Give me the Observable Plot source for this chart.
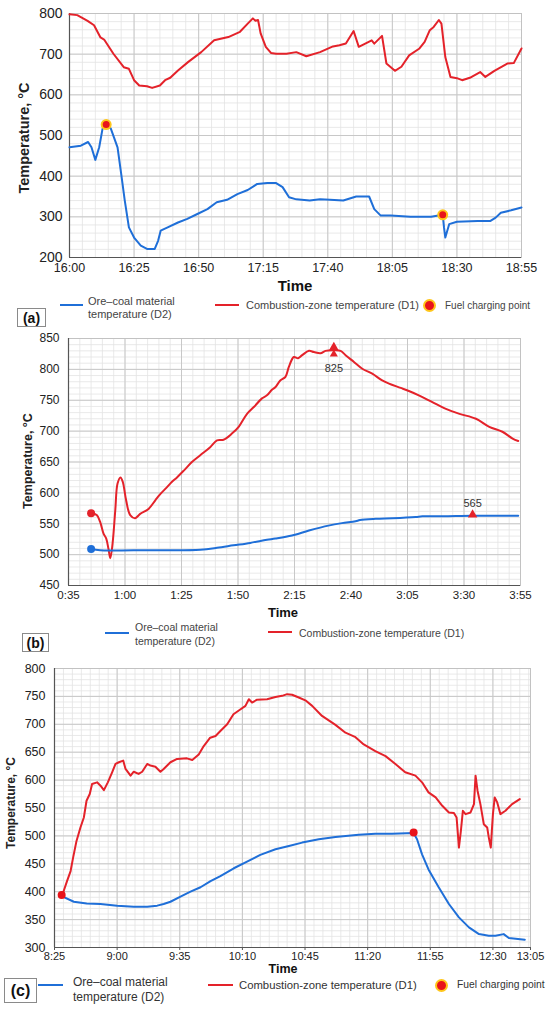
<!DOCTYPE html>
<html><head><meta charset="utf-8">
<script src="https://cdn.jsdelivr.net/npm/d3@7"></script>
<script src="https://cdn.jsdelivr.net/npm/@observablehq/plot@0.6"></script>
<style>
body{margin:0;background:#fff;}
#root{position:relative;width:550px;height:1012px;overflow:hidden;font-family:"Liberation Sans",Arial,sans-serif;color:#333;}
.abs{position:absolute;white-space:nowrap;}
.ytitle{position:absolute;white-space:nowrap;transform:translate(-50%,-50%) rotate(-90deg);font-weight:bold;color:#222;}
.xtitle{position:absolute;white-space:nowrap;transform:translate(-50%,-50%);font-weight:bold;color:#111;}
.lline{position:absolute;height:0;border-top:2.5px solid;}
.ldot{position:absolute;border-radius:50%;background:#e8141b;}
.plabel{position:absolute;border:1px solid #8a8a8a;font-weight:bold;color:#111;display:flex;align-items:center;justify-content:center;box-sizing:border-box;}
</style></head><body><div id="root"></div>
<script>
// ---------------- Panel (a): minutes after 16:00 ----------------
const aXTicks = [0, 25, 50, 75, 100, 125, 150, 175];
const aXLabels = ["16:00", "16:25", "16:50", "17:15", "17:40", "18:05", "18:30", "18:55"];
const aYTicks = [200, 300, 400, 500, 600, 700, 800];
const aRed = [[0,798],[3,796],[7,782],[9.5,771],[12,741],[13.4,736],[17,701],[21,668],[23,664],[25,636],[27,623],[30,621],[32,617],[35,623],[37,636],[39,642],[42,660],[46,681],[51,705],[56,734],[61.5,742],[66,755],[69,775],[71,788],[72,782],[73,784],[74,751],[76,718],[78,703],[80,701],[84,701],[87.8,705],[91.7,695],[97,705],[102,719],[104.5,722],[107,726],[110,757],[112,718],[114.5,726],[117,734],[118,726],[121,745],[122.7,677],[126,659],[128.5,669],[131.5,697],[135.5,714],[137.5,730],[139.5,759],[141,767],[143,784],[144,775],[145.5,693],[147.5,644],[150,641],[152,636],[155,642],[159,656],[161,644],[164.5,659],[169.5,677],[172,678],[175,714]];
const aBlue = [[0,471],[4.4,475],[7.2,484],[8.5,471],[10,440],[11.5,471],[12.8,517],[14.2,527],[16,517],[18.6,471],[20,406],[21.4,340],[23,274],[25,249],[27.6,229],[30,221],[33,221],[34.3,241],[35.3,266],[38,274],[42,286],[45.6,295],[49.5,307],[53.4,319],[57,336],[61,342],[65,356],[69,366],[72.7,381],[76.6,383],[80,383],[82.5,373],[85,348],[87.8,343],[93,340],[97,343],[100.8,342],[106,340],[111,350],[116,350],[118,319],[120.5,303],[124.4,303],[132,300],[140,300],[144.5,305],[145,274],[145.5,249],[147,282],[150,288],[158,290],[163,290],[165,298],[167,310],[171,316],[175,323]];
const aFuel = [[14.2,527],[144.5,305]];

// ---------------- Panel (b): minutes after 0:00 ----------------
const bXTicks = [35, 60, 85, 110, 135, 160, 185, 210, 235];
const bXLabels = ["0:35", "1:00", "1:25", "1:50", "2:15", "2:40", "3:05", "3:30", "3:55"];
const bYTicks = [450, 500, 550, 600, 650, 700, 750, 800, 850];
const bRed = [[45,567],[47.5,564],[49,553],[50.5,534],[51.7,526],[52.7,509],[53.5,494],[54.5,518],[55.7,572],[56.7,615],[58,625],[59,618],[60.5,588],[62.3,564],[64.5,559],[66.7,566],[70.4,574],[73.4,588],[75.6,598],[78.5,609],[80.8,618],[83,625],[86,636],[89.6,650],[93.3,661],[97.7,674],[100.7,685],[103.6,686],[107.3,696],[110.3,707],[114,728],[117,739],[120.6,753],[122.8,758],[125,767],[126.5,771],[128.7,782],[131,788],[132.5,804],[134.7,820],[136.6,818],[138.4,823],[141.4,830],[143.6,828],[146.5,826],[148.7,830],[152.4,831],[155.4,830],[157.6,823],[161.3,812],[165,801],[169.4,793],[173.8,782],[176.8,777],[182,770],[185.6,765],[190,758],[196,747],[202,736],[208,728],[215.3,720],[221.2,707],[227,699],[231.5,688],[234,684]];
const bBlue = [[45,509],[49,507],[63.8,507],[78.5,507],[93.3,508],[100.7,511],[108,515],[115.4,519],[122.8,524],[126.5,526],[133.9,531],[141.4,539],[150,547],[156,551],[162,554],[164,556],[171,558],[178.3,559],[188.6,561],[191.6,562],[200.5,562],[213.8,563],[234,563]];
const bRedStart = [[45,567]];
const bBlueStart = [[45,509]];
const bPeak = [[152.4,831,"825"]];
const bPlateau = [[213.8,563,"565"]];

// ---------------- Panel (c): minutes after 0:00 ----------------
const cXTicks = [505, 540, 575, 610, 645, 680, 715, 750, 771];
const cXLabels = ["8:25", "9:00", "9:35", "10:10", "10:45", "11:20", "11:55", "12:30", "13:05"];
const cYTicks = [300, 350, 400, 450, 500, 550, 600, 650, 700, 750, 800];
const cRed = [[509,394],[510,400],[512,419],[514,437],[515.4,461],[517.3,491],[519.5,515],[521.4,533],[522.9,563],[524.7,575],[526,593],[528.8,596],[530.7,590],[532.6,582],[534.8,596],[537.2,614],[539.1,629],[541,632],[543.4,635],[544.7,620],[547.5,608],[549.3,615],[552,611],[554,615],[556.8,629],[558.6,626],[561.4,624],[564.2,615],[566,620],[569.8,632],[573.5,638],[579,639],[582,636],[585.6,646],[588.4,661],[592,676],[595,679],[597.7,688],[601.5,700],[605,718],[609,727],[611.7,733],[613.6,745],[615.4,739],[618.2,744],[623.8,745],[628.5,749],[632.2,751],[635,754],[637.8,753],[641.5,748],[645.2,743],[649,733],[654.5,715],[662,699],[667.6,685],[673.2,677],[677.8,664],[684.3,652],[690,643],[695.5,629],[701,614],[706.7,608],[710.4,596],[714,578],[718,569],[721.7,554],[725.4,542],[728.2,541],[729.7,533],[731,479],[732.1,509],[733.2,545],[734.7,539],[737.5,542],[739.4,557],[740.3,608],[741.4,581],[743,557],[744.9,521],[746.8,515],[747.7,497],[748.8,479],[750,539],[751,569],[752.4,560],[754.2,539],[757,545],[760.7,557],[765,566]];
const cBlue = [[509,392],[515.8,382],[523,379],[530.7,378],[540,375],[549.3,373],[556.8,373],[562.4,375],[566,378],[569.8,382],[575.4,391],[581,400],[586.6,408],[592.2,419],[597.7,428],[605.2,442],[612.6,454],[620,466],[628.5,476],[636,482],[643.4,488],[652.7,494],[662,498],[675,502],[684.3,504],[693.6,504],[705.7,505],[707.6,494],[710.4,467],[714,440],[719.7,408],[725.4,378],[731,354],[736.6,336],[742.2,324],[747.7,321],[751.4,321],[756,324],[758.9,317],[767.8,314]];
const cFuel = [[509,394],[705.7,506]];

// ---------------- drawing ----------------
const RED = "#e4222a", BLUE = "#1f6fd8", RING = "#ffc61a";
const root = document.getElementById("root");
const pts = arr => arr.map(([t, v, label]) => ({t, v, label}));

function panel(p) {
  const tickMap = new Map(p.xTicks.map((t, i) => [t, p.xLabels[i]]));
  const marks = [
    Plot.gridX(d3.range(p.xDomain[0], p.xDomain[1] + 0.001, p.xMinorStep), {stroke: "#e3e3e3", strokeOpacity: 1, strokeWidth: 0.8}),
    Plot.gridY(d3.range(p.yDomain[0], p.yDomain[1] + 0.001, p.yMinorStep), {stroke: "#e3e3e3", strokeOpacity: 1, strokeWidth: 0.8}),
    Plot.gridX(p.xTicks, {stroke: "#c8c8c8", strokeOpacity: 1}),
    Plot.gridY(p.yTicks, {stroke: "#c8c8c8", strokeOpacity: 1}),
    Plot.frame({stroke: "#c2c2c2"}),
    Plot.ruleX([p.xDomain[0]], {stroke: "#555", strokeWidth: 1.2}),
    Plot.ruleY([p.yDomain[0]], {stroke: "#555", strokeWidth: 1.2}),
    Plot.axisY(p.yTicks, {tickSize: 0, tickPadding: p.yPad, fontSize: p.yFs, fill: "#222", label: null}),
    Plot.axisX(p.xTicks, {tickSize: p.xTickSize, tickPadding: p.xPad, fontSize: p.xFs, fill: "#222", stroke: "#555", tickFormat: d => tickMap.get(d), label: null}),
    Plot.line(pts(p.red), {x: "t", y: "v", stroke: RED, strokeWidth: 2, curve: p.curve}),
    Plot.line(pts(p.blue), {x: "t", y: "v", stroke: BLUE, strokeWidth: 2, curve: p.curve}),
    ...p.extra
  ];
  const svg = Plot.plot({
    width: 550, height: p.height,
    marginLeft: p.ml, marginRight: p.mr, marginTop: p.mt, marginBottom: p.mb,
    style: {fontFamily: "Liberation Sans, Arial, sans-serif", background: "transparent", overflow: "visible"},
    x: {domain: p.xDomain, axis: null, label: null},
    y: {domain: p.yDomain, axis: null, label: null},
    marks
  });
  svg.style.position = "absolute";
  svg.style.left = "0px";
  svg.style.top = p.top + "px";
  root.appendChild(svg);
}

panel({
  top: 0, height: 280, ml: 69, mr: 29, mt: 13, mb: 23,
  xDomain: [0, 175], yDomain: [200, 800], xMinorStep: 5, yMinorStep: 20,
  xTicks: aXTicks, xLabels: aXLabels, yTicks: aYTicks,
  yPad: 7, yFs: 14, xPad: 6, xFs: 12.5, xTickSize: 0, curve: "linear",
  red: aRed, blue: aBlue,
  extra: [Plot.dot(pts(aFuel), {x: "t", y: "v", r: 4.5, fill: "#e8141b", stroke: RING, strokeWidth: 2})]
});

panel({
  top: 330, height: 275, ml: 68, mr: 30, mt: 8, mb: 20,
  xDomain: [35, 235], yDomain: [450, 850], xMinorStep: 5, yMinorStep: 10,
  xTicks: bXTicks, xLabels: bXLabels, yTicks: bYTicks,
  yPad: 9, yFs: 12, xPad: 5, xFs: 11.5, xTickSize: 0, curve: "catmull-rom",
  red: bRed, blue: bBlue,
  extra: [
    Plot.dot(pts(bRedStart), {x: "t", y: "v", r: 4, fill: RED}),
    Plot.dot(pts(bBlueStart), {x: "t", y: "v", r: 4, fill: BLUE}),
    Plot.dot(pts(bPeak), {x: "t", y: "v", r: 3.5, symbol: "triangle", fill: RED, dy: -3}),
    Plot.dot(pts(bPeak), {x: "t", y: "v", r: 3, symbol: "triangle", fill: RED, dy: 4}),
    Plot.text(pts(bPeak), {x: "t", y: "v", text: "label", dy: 18, fontSize: 11, fill: "#333"}),
    Plot.dot(pts(bPlateau), {x: "t", y: "v", r: 3.5, symbol: "triangle", fill: RED, dy: -1}),
    Plot.text(pts(bPlateau), {x: "t", y: "v", text: "label", dy: -12, fontSize: 11, fill: "#333"})
  ]
});

panel({
  top: 660, height: 305, ml: 54, mr: 20, mt: 8, mb: 18,
  xDomain: [505, 771], yDomain: [300, 800], xMinorStep: 5, yMinorStep: 10,
  xTicks: cXTicks, xLabels: cXLabels, yTicks: cYTicks,
  yPad: 9, yFs: 12.5, xPad: 2, xFs: 11, xTickSize: 3, curve: "linear",
  red: cRed, blue: cBlue,
  extra: [Plot.dot(pts(cFuel), {x: "t", y: "v", r: 4, fill: "#e8141b"})]
});

// ---------------- HTML text, legends ----------------
function el(cls, style, html) {
  const d = document.createElement("div");
  d.className = cls;
  d.setAttribute("style", style);
  if (html != null) d.innerHTML = html;
  root.appendChild(d);
  return d;
}
// (a)
el("ytitle", "left:24px;top:138px;font-size:14.5px;", "Temperature, °C");
el("xtitle", "left:295px;top:285px;font-size:15px;", "Time");
el("lline", `left:60px;top:304px;width:23px;border-color:${BLUE};`);
el("abs", "left:88px;top:295px;font-size:11px;line-height:13px;color:#444;", "Ore–coal material<br>temperature (D2)");
el("lline", `left:215px;top:304px;width:24px;border-color:${RED};`);
el("abs", "left:246px;top:299px;font-size:11px;line-height:13px;color:#444;", "Combustion-zone temperature (D1)");
el("ldot", `left:423px;top:299px;width:9px;height:9px;border:2px solid ${RING};`);
el("abs", "left:445px;top:299px;font-size:10px;line-height:13px;color:#444;", "Fuel charging point");
el("plabel", "left:17px;top:308px;width:29px;height:19px;font-size:14px;", "(a)");
// (b)
el("ytitle", "left:28px;top:461px;font-size:12.5px;", "Temperature, °C");
el("xtitle", "left:283px;top:612px;font-size:13px;", "Time");
el("lline", `left:105px;top:632px;width:24px;border-color:${BLUE};`);
el("abs", "left:135px;top:620px;font-size:10.5px;line-height:14px;color:#444;", "Ore–coal material<br>temperature (D2)");
el("lline", `left:268px;top:631px;width:24px;border-color:${RED};`);
el("abs", "left:299px;top:626px;font-size:10.5px;line-height:14px;color:#444;", "Combustion-zone temperature (D1)");
el("plabel", "left:22px;top:633px;width:27px;height:19px;font-size:14px;", "(b)");
// (c)
el("ytitle", "left:11px;top:803px;font-size:12px;", "Temperature, °C");
el("xtitle", "left:283px;top:969px;font-size:12.5px;", "Time");
el("lline", `left:38px;top:984px;width:25px;border-color:${BLUE};`);
el("abs", "left:73px;top:975px;font-size:12px;line-height:15px;color:#333;", "Ore–coal material<br>temperature (D2)");
el("lline", `left:208px;top:984px;width:25px;border-color:${RED};`);
el("abs", "left:239px;top:978px;font-size:11.3px;line-height:14px;color:#333;", "Combustion-zone temperature (D1)");
el("ldot", `left:435px;top:979px;width:9px;height:9px;border:2px solid ${RING};`);
el("abs", "left:457px;top:978px;font-size:10.3px;line-height:14px;color:#333;", "Fuel charging point");
el("plabel", "left:4px;top:978px;width:33px;height:25px;font-size:16px;", "(c)");
</script>
</body></html>
